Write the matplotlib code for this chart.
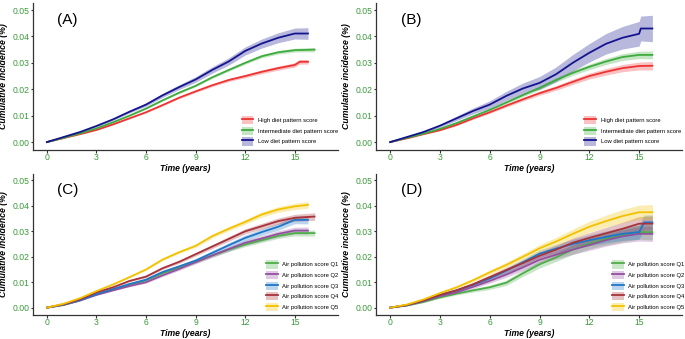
import matplotlib
matplotlib.use("Agg")
import matplotlib.pyplot as plt
from matplotlib.patches import Patch
from matplotlib.lines import Line2D

plt.rcParams['font.family'] = ['Liberation Sans', 'DejaVu Sans']

# yearly read-offs (t = 0..15), then the tail of each curve
years = list(range(16))

# Panel A - diet pattern score
a_high = [0, .0015, .003, .0046, .0067, .009, .0113, .014, .0168, .0192, .0215, .0235, .025, .0266, .028, .0292]
a_mid = [0, .0016, .0033, .0052, .0075, .0100, .0127, .0158, .0187, .0213, .0245, .0273, .0300, .0325, .0340, .0348]
a_low = [0, .0019, .0038, .0061, .0086, .0115, .0142, .0177, .0208, .0237, .0273, .0305, .0345, .0373, .0395, .0411]
a_tail_t = [[15.3, 15.8], [16.2], [15.8]]
a_tail_v = [[.0304, .0304], [.035], [.0411]]
a_ci = [.0009, .0008, .0022]

# Panel B - diet pattern score
b_high = [0, .0014, .003, .0045, .0065, .009, .0113, .0138, .0162, .0185, .0205, .0228, .025, .0266, .028, .0288]
b_mid = [0, .0016, .0032, .005, .0072, .0097, .0122, .015, .0178, .0205, .0235, .0262, .0285, .0305, .0322, .033]
b_low = [0, .0019, .0038, .0062, .009, .0118, .0142, .0175, .0203, .0224, .0257, .0300, .0338, .0372, .0395, .0410]
b_tail_t = [[15.8], [15.8], [15.1, 15.8]]
b_tail_v = [[.0289], [.033], [.043, .043]]
b_ci = [.0016, .0015, .005]

# Panel C - air pollution score
c_q1 = [0, .001, .0028, .0053, .007, .009, .0108, .0135, .0158, .018, .0205, .0228, .0248, .0265, .0282, .0293]
c_q2 = [0, .0011, .0028, .005, .0068, .0085, .0100, .0127, .0152, .0179, .0205, .023, .0255, .0272, .029, .0303]
c_q3 = [0, .0012, .003, .0053, .0073, .0093, .011, .014, .0162, .0185, .0215, .0245, .0274, .0297, .0318, .0345]
c_q4 = [0, .0013, .0033, .006, .008, .0105, .0122, .0155, .018, .021, .024, .027, .030, .032, .034, .0353]
c_q5 = [0, .0015, .0037, .0065, .0091, .0120, .015, .0189, .0218, .0243, .0281, .031, .0337, .0366, .0386, .0398]
c_tail_t = [[16.2], [15.8], [15.8], [16.2], [15.8]]
c_tail_v = [[.0293], [.0303], [.0345], [.0358], [.0404]]
c_ci = [.0012, .0014, .0016, .0015, .0013]

# Panel D - air pollution score
d_q1 = [0, .0008, .0022, .004, .0055, .0068, .008, .0098, .0135, .017, .0198, .0228, .0252, .027, .0284, .0297]
d_q2 = [0, .0009, .0025, .0045, .006, .0082, .0105, .013, .0158, .0188, .0208, .0228, .0246, .0265, .028, .029]
d_q3 = [0, .001, .0028, .005, .0068, .009, .0115, .0145, .0178, .0212, .0232, .025, .0265, .0278, .029, .0297]
d_q4 = [0, .001, .0028, .005, .0068, .0092, .012, .0148, .0175, .0204, .0228, .0255, .0274, .0292, .031, .033]
d_q5 = [0, .0012, .0032, .0057, .008, .0108, .0139, .0168, .020, .0233, .026, .029, .0318, .034, .036, .0375]
d_tail_t = [[15.8], [15.8], [15.3, 15.8], [15.8], [15.8]]
d_tail_v = [[.0297], [.029], [.0335, .0335], [.033], [.0375]]
d_ci = [.003, .003, .003, .003, .003]

diet_labels = ["High diet pattern score", "Intermediate diet pattern score", "Low diet pattern score"]
air_labels = ["Air pollution score Q1", "Air pollution score Q2", "Air pollution score Q3",
              "Air pollution score Q4", "Air pollution score Q5"]
diet_colors = ["#ee3333", "#3dab3d", "#141490"]
air_colors = ["#4dae4a", "#9450a0", "#1f76c8", "#a8323a", "#f2c200"]

tick_green = "#3a9a3a"


def panel(rect, letter, series, tails_t, tails_v, ci, labels, colors, leg_anchor):
    ax = fig.add_axes(rect)
    ax.patch.set_alpha(0)
    handles = []
    for vals, tt, tv, hw, lab, col in zip(series, tails_t, tails_v, ci, labels, colors):
        t = years + tt
        v = vals + tv
        tmax = t[-1]
        # band grows with follow-up time
        w = [hw * (x / tmax) ** 1.3 for x in t]
        lo = [a - b for a, b in zip(v, w)]
        hi = [a + b for a, b in zip(v, w)]
        ax.fill_between(t, lo, hi, color=col, alpha=0.3, lw=0)
        ax.plot(t, v, color=col, lw=1.3)
        handles.append((Patch(facecolor=col, alpha=0.3, lw=0),
                        Line2D([], [], color=col, lw=1.3)))
    ax.set_xlim(-0.85, 17.6)
    ax.set_ylim(-0.003, 0.0527)
    ax.set_xticks([0, 3, 6, 9, 12, 15])
    ax.set_yticks([0, .01, .02, .03, .04, .05])
    ax.set_yticklabels(["0.00", "0.01", "0.02", "0.03", "0.04", "0.05"])
    ax.tick_params(labelsize=6.2, labelcolor=tick_green, color="#333333",
                   length=1.8, width=0.8, pad=0.8)
    ax.tick_params(axis="x", pad=0.4)
    for s in ["top", "right"]:
        ax.spines[s].set_visible(False)
    for s in ["left", "bottom"]:
        ax.spines[s].set_color("#333333")
        ax.spines[s].set_linewidth(0.9)
    ax.set_xlabel("Time (years)", fontsize=6.2, fontweight="bold", fontstyle="italic")
    ax.set_ylabel("Cumulative incidence (%)", fontsize=6.3, fontweight="bold", fontstyle="italic")
    ax.xaxis.set_label_coords(0.5, -0.095)
    ax.yaxis.set_label_coords(-0.083, 0.5)
    ax.text(0.08, 0.93, letter, transform=ax.transAxes, fontsize=11, va="top")
    ax.legend(handles=handles, labels=labels, loc="lower left", bbox_to_anchor=leg_anchor,
              frameon=False, fontsize=4.2, handlelength=2.0, handleheight=1.8,
              labelspacing=0.4, handletextpad=0.8, borderpad=0, borderaxespad=0)
    return ax


fig = plt.figure(figsize=(6.85, 3.39), dpi=100)

panel([0.048, 0.5575, 0.445, 0.434], "(A)", [a_high, a_mid, a_low], a_tail_t, a_tail_v, a_ci,
      diet_labels, diet_colors, (0.685, 0.03))
panel([0.549, 0.5575, 0.447, 0.434], "(B)", [b_high, b_mid, b_low], b_tail_t, b_tail_v, b_ci,
      diet_labels, diet_colors, (0.68, 0.03))
panel([0.048, 0.07, 0.445, 0.418], "(C)", [c_q1, c_q2, c_q3, c_q4, c_q5], c_tail_t, c_tail_v, c_ci,
      air_labels, air_colors, (0.765, 0.03))
panel([0.549, 0.07, 0.447, 0.418], "(D)", [d_q1, d_q2, d_q3, d_q4, d_q5], d_tail_t, d_tail_v, d_ci,
      air_labels, air_colors, (0.77, 0.03))

fig.savefig("out.png", dpi=100)
